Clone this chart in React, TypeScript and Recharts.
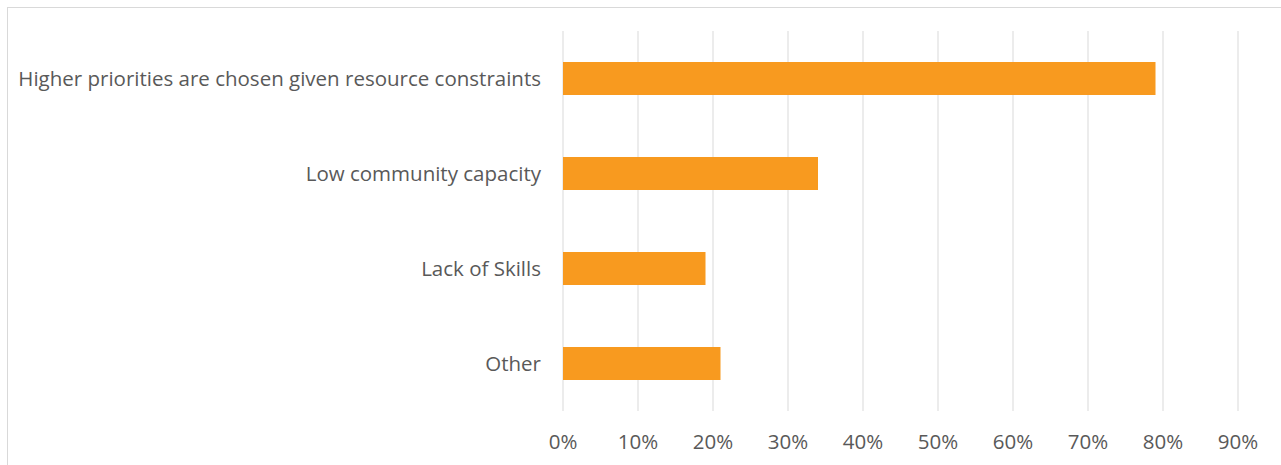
import React from 'react';
import { BarChart, Bar, XAxis, YAxis, CartesianGrid } from 'recharts';

// survey answers, share of respondents
const reasons = [
  'Higher priorities are chosen given resource constraints',
  'Low community capacity',
  'Lack of Skills',
  'Other',
];
const shares = [0.79, 0.34, 0.19, 0.21];
const percentTicks = [0, 0.1, 0.2, 0.3, 0.4, 0.5, 0.6, 0.7, 0.8, 0.9];

const data = reasons.map((name, i) => ({ name, value: shares[i] }));

const textColor = '#595959';
const fontFamily = '"Open Sans", sans-serif';

const App: React.FC = () => {
  return (
    <div style={{ position: 'absolute', left: 0, top: 0, width: 1281, height: 465, overflow: 'hidden', background: '#fff' }}>
      {/* chart frame, right and bottom edges fall outside the picture */}
      <div
        style={{
          position: 'absolute',
          left: 7,
          top: 7,
          width: 1300,
          height: 500,
          border: '1px solid #d9d9d9',
          boxSizing: 'border-box',
        }}
      />
      <div style={{ position: 'absolute', left: 0, top: 0 }}>
        <BarChart
          width={1281}
          height={465}
          data={data}
          layout="vertical"
          margin={{ top: 31, right: 43, bottom: 0, left: 0 }}
          barCategoryGap={0}
        >
          <CartesianGrid horizontal={false} stroke="#d9d9d9" strokeWidth={1} />
          <XAxis
            type="number"
            domain={[0, 0.9]}
            ticks={percentTicks}
            tickFormatter={(v: number) => `${Math.round(v * 100)}%`}
            axisLine={false}
            tickLine={false}
            tickSize={0}
            tickMargin={23}
            height={54}
            interval={0}
            tick={{ fill: textColor, fontSize: 20.5, fontFamily }}
          />
          <YAxis
            type="category"
            dataKey="name"
            width={563}
            axisLine={false}
            tickLine={false}
            tickSize={0}
            tickMargin={22}
            interval={0}
            tick={{ fill: textColor, fontSize: 20.5, fontFamily }}
          />
          <Bar dataKey="value" fill="#F89A1F" barSize={33} isAnimationActive={false} />
        </BarChart>
      </div>
    </div>
  );
};

export default App;
